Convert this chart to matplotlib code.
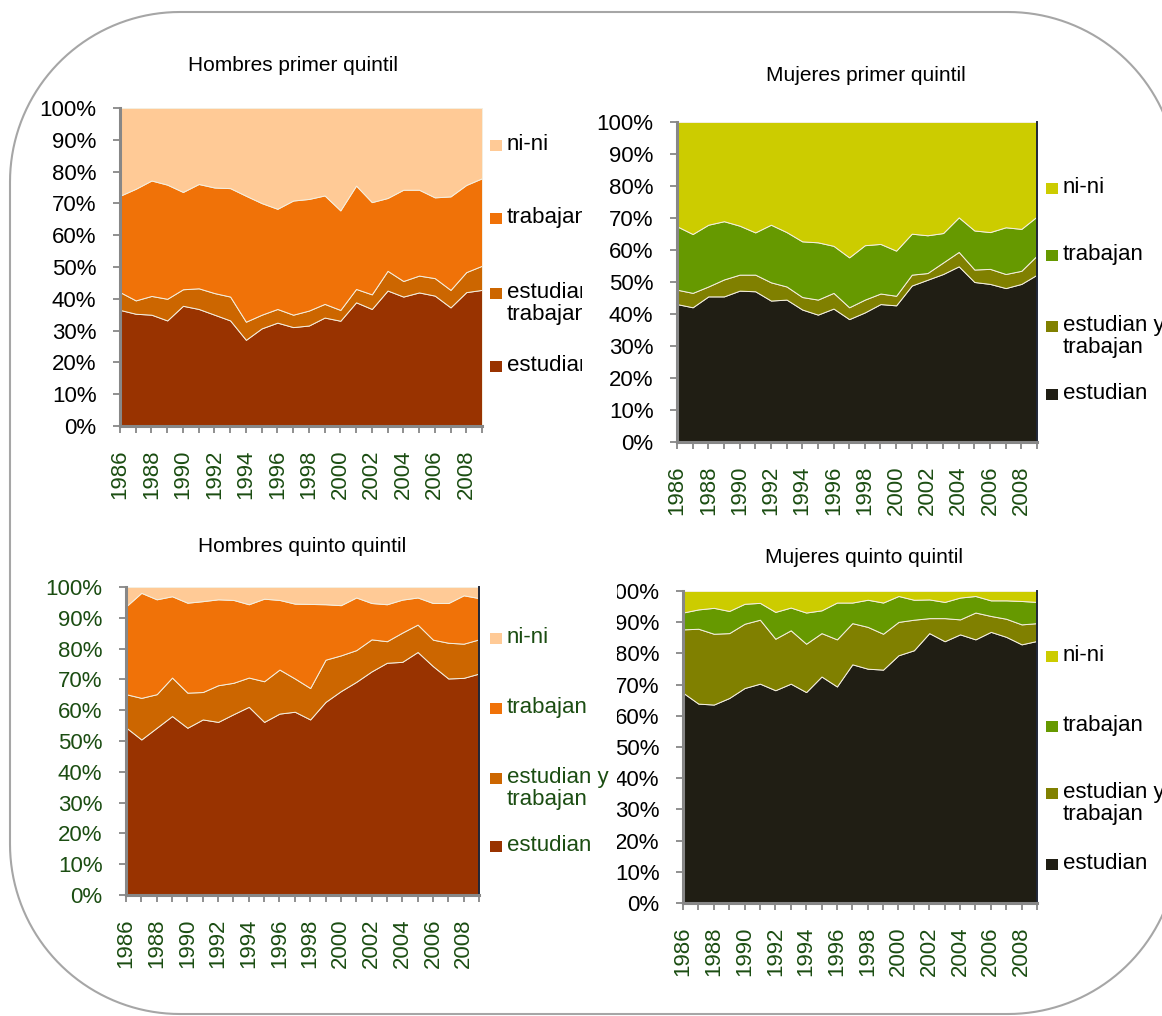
import numpy as np
import matplotlib.pyplot as plt
from matplotlib.patches import PathPatch, Rectangle
from matplotlib.path import Path
from matplotlib.transforms import Bbox, TransformedBbox

plt.rcParams['font.family'] = ['Liberation Sans', 'DejaVu Sans']

# --- datos ---
anios = list(range(1986, 2010))
etiquetas = ['estudian', 'estudian y\ntrabajan', 'trabajan', 'ni-ni']

# Hombres primer quintil (%)
hp_estudian = [36.5, 35.3, 35.0, 33.2, 37.8, 36.8, 35.0, 33.2, 27.1, 30.7, 32.5, 31.1,
               31.6, 34.1, 33.1, 38.9, 36.8, 42.6, 40.7, 42.0, 41.0, 37.3, 42.1, 42.8]
hp_est_trab = [5.6, 4.2, 5.9, 6.8, 5.2, 6.5, 6.8, 7.5, 5.7, 4.3, 4.3, 3.9,
               4.7, 4.3, 3.4, 4.2, 4.6, 6.2, 4.9, 5.3, 5.5, 5.5, 6.3, 7.6]
hp_trabajan = [30.3, 35.1, 36.3, 35.9, 30.6, 32.8, 33.2, 34.1, 39.6, 35.1, 31.5, 35.9,
               35.1, 34.1, 31.3, 32.5, 29.0, 22.9, 28.7, 27.0, 25.4, 29.4, 27.4, 27.5]
hp_nini = [27.6, 25.4, 22.8, 24.1, 26.4, 23.9, 25.0, 25.2, 27.6, 29.9, 31.7, 29.1,
           28.6, 27.5, 32.2, 24.4, 29.6, 28.3, 25.7, 25.7, 28.1, 27.8, 24.2, 22.1]

# Mujeres primer quintil (%)
mp_estudian = [43.1, 42.1, 45.5, 45.5, 47.3, 47.1, 44.2, 44.5, 41.4, 39.8, 41.7, 38.4,
               40.5, 43.1, 42.7, 48.9, 50.7, 52.5, 54.9, 50.0, 49.4, 48.1, 49.4, 52.3]
mp_est_trab = [4.5, 4.5, 3.1, 5.3, 5.0, 5.2, 5.7, 4.1, 3.9, 4.7, 4.9, 3.7,
               4.0, 3.3, 3.0, 3.4, 2.1, 3.6, 4.5, 3.9, 4.7, 4.4, 4.1, 6.0]
mp_trabajan = [19.8, 18.4, 19.3, 18.2, 15.3, 13.2, 18.0, 17.0, 17.4, 17.9, 14.7, 15.6,
               17.0, 15.5, 14.1, 12.8, 11.8, 9.2, 10.8, 12.2, 11.5, 14.6, 13.1, 12.2]
mp_nini = [32.6, 35.0, 32.1, 31.0, 32.4, 34.5, 32.1, 34.4, 37.3, 37.6, 38.7, 42.3,
           38.5, 38.1, 40.2, 34.9, 35.4, 34.7, 29.8, 33.9, 34.4, 32.9, 33.4, 29.5]

# Hombres quinto quintil (%)
hq_estudian = [54.4, 50.5, 54.3, 58.1, 54.3, 57.0, 56.2, 58.7, 61.1, 56.2, 58.9, 59.5,
               57.0, 62.7, 66.2, 69.2, 72.6, 75.4, 75.7, 78.9, 74.3, 70.3, 70.5, 71.9]
hq_est_trab = [10.8, 13.5, 10.9, 12.5, 11.4, 8.9, 11.9, 10.2, 9.5, 13.2, 14.3, 10.8,
               10.2, 13.7, 11.6, 10.3, 10.4, 7.0, 9.5, 8.9, 8.6, 11.6, 11.1, 11.1]
hq_trabajan = [28.5, 34.1, 30.8, 26.4, 29.2, 29.5, 27.9, 26.9, 23.8, 26.8, 22.6, 24.3,
               27.3, 18.0, 16.3, 17.1, 11.8, 12.0, 10.7, 8.8, 11.9, 12.9, 15.7, 13.4]
hq_nini = [6.3, 1.9, 4.0, 3.0, 5.1, 4.6, 4.0, 4.2, 5.6, 3.8, 4.2, 5.4,
           5.5, 5.6, 5.9, 3.4, 5.2, 5.6, 4.1, 3.4, 5.2, 5.2, 2.7, 3.6]

# Mujeres quinto quintil (%)
mq_estudian = [67.4, 63.9, 63.6, 65.7, 68.9, 70.3, 68.2, 70.3, 67.6, 72.6, 69.4, 76.5,
               75.1, 74.8, 79.4, 81.0, 86.5, 83.9, 86.1, 84.5, 86.9, 85.3, 82.9, 84.0]
mq_est_trab = [20.3, 24.0, 22.7, 20.8, 20.6, 20.5, 16.5, 17.1, 15.5, 13.9, 15.1, 13.2,
               13.4, 11.5, 10.7, 9.8, 4.8, 7.4, 4.8, 8.6, 5.1, 5.8, 6.4, 5.7]
mq_trabajan = [5.4, 6.2, 8.3, 7.1, 6.4, 5.4, 8.6, 7.3, 10.0, 7.3, 11.8, 6.6,
               8.7, 10.0, 8.3, 6.4, 6.0, 5.2, 7.0, 5.3, 5.0, 5.9, 7.5, 6.8]
mq_nini = [6.9, 5.9, 5.4, 6.4, 4.1, 3.8, 6.7, 5.3, 6.9, 6.2, 3.7, 3.7,
           2.8, 3.7, 1.6, 2.8, 2.7, 3.5, 2.1, 1.6, 3.0, 3.0, 3.2, 3.5]

colores_h = ['#993300', '#CC6600', '#F07208', '#FFCA96']
colores_m = ['#201E14', '#808000', '#669900', '#CCCC00']
verde = '#1B4D12'
gris = '#878787'

W, H = 1162, 1016
fig = plt.figure(figsize=(W / 100, H / 100), dpi=100)


def fx(x):
    return x / W


def fy(y):
    return 1 - y / H


# marco redondeado en pixeles, con esquinas de arco circular
izq, arr, der, aba, r = 10, 12, 1178, 1014, 170
esquinas = [(der - r, arr + r, -90, 0), (der - r, aba - r, 0, 90),
            (izq + r, aba - r, 90, 180), (izq + r, arr + r, 180, 270)]
pts = []
for cx, cy, a0, a1 in esquinas:
    ang = np.radians(np.linspace(a0, a1, 40))
    pts += [(cx + r * np.cos(a), cy + r * np.sin(a)) for a in ang]
pts.append(pts[0])
marco = PathPatch(Path([(fx(x), fy(y)) for x, y in pts]), fill=False,
                  edgecolor='#A6A6A6', linewidth=1.5, transform=fig.transFigure)
fig.add_artist(marco)


def panel(caja, series, colores, titulo, pos_titulo, color_y, borde_der,
          ley_x, ley_y, color_ley, corte_ley=None, corte_y=None):
    x0, y0, x1, y1 = caja
    ax = fig.add_axes([fx(x0), fy(y1), fx(x1 - x0), (y1 - y0) / H])
    ax.stackplot(anios, *series, colors=colores, edgecolor='#F4EFE0',
                 linewidth=0.7)
    ax.set_xlim(anios[0], anios[-1])
    ax.set_ylim(0, 100)
    ax.set_yticks(np.arange(0, 101, 10))
    ax.set_yticklabels(['%d%%' % v for v in range(0, 101, 10)])
    ax.set_xticks(anios)
    ax.set_xticklabels([str(a) if (a - anios[0]) % 2 == 0 and a != anios[-1] else ''
                        for a in anios], rotation=90)
    ax.tick_params(axis='both', direction='out', length=5, width=1.3,
                   color=gris, pad=12, labelsize=16)
    ax.tick_params(axis='x', labelcolor=verde)
    ax.tick_params(axis='y', labelcolor=color_y)
    ax.spines['top'].set_visible(False)
    ax.spines['left'].set_color(gris)
    ax.spines['left'].set_linewidth(2.2)
    ax.spines['bottom'].set_color(gris)
    ax.spines['bottom'].set_linewidth(2.2)
    if borde_der:
        ax.spines['right'].set_color('#1F2637')
        ax.spines['right'].set_linewidth(1.4)
    else:
        ax.spines['right'].set_visible(False)

    if corte_y is not None:
        recorte = TransformedBbox(Bbox.from_extents(fx(corte_y), 0, 1, 1),
                                  fig.transFigure)
        for lab in ax.get_yticklabels():
            lab.set_clip_on(True)
            lab.set_clip_box(recorte)

    fig.text(fx(pos_titulo[0]), fy(pos_titulo[1]), titulo, ha='center',
             va='baseline', fontsize=15, color='black')

    # leyenda, de arriba hacia abajo
    recorte_ley = None
    if corte_ley is not None:
        recorte_ley = TransformedBbox(Bbox.from_extents(0, 0, fx(corte_ley), 1),
                                      fig.transFigure)
    for col, lab, yc in zip(colores[::-1], etiquetas[::-1], ley_y):
        fig.add_artist(Rectangle((fx(ley_x), fy(yc + 5)), fx(12), 11 / H,
                                 transform=fig.transFigure, facecolor=col,
                                 edgecolor='none'))
        t = fig.text(fx(ley_x + 17), fy(yc - 12), lab, ha='left', va='top',
                     fontsize=16, color=color_ley, linespacing=1.05)
        if recorte_ley is not None:
            t.set_clip_on(True)
            t.set_clip_box(recorte_ley)
    return ax


panel((120, 108, 482, 426),
      [hp_estudian, hp_est_trab, hp_trabajan, hp_nini], colores_h,
      'Hombres primer quintil', (293, 71), 'black', False,
      490, [146, 219, 294, 367], 'black', corte_ley=582)

panel((677, 122, 1037, 442),
      [mp_estudian, mp_est_trab, mp_trabajan, mp_nini], colores_m,
      'Mujeres primer quintil', (866, 81), 'black', True,
      1046, [189, 256, 327, 395], 'black')

panel((126, 587, 479, 895),
      [hq_estudian, hq_est_trab, hq_trabajan, hq_nini], colores_h,
      'Hombres quinto quintil', (302, 552), verde, True,
      490, [639, 709, 779, 847], verde)

panel((683, 591, 1037, 903),
      [mq_estudian, mq_est_trab, mq_trabajan, mq_nini], colores_m,
      'Mujeres quinto quintil', (864, 563), 'black', True,
      1046, [657, 727, 794, 865], 'black', corte_y=617)

plt.savefig('out.png', dpi=100)
